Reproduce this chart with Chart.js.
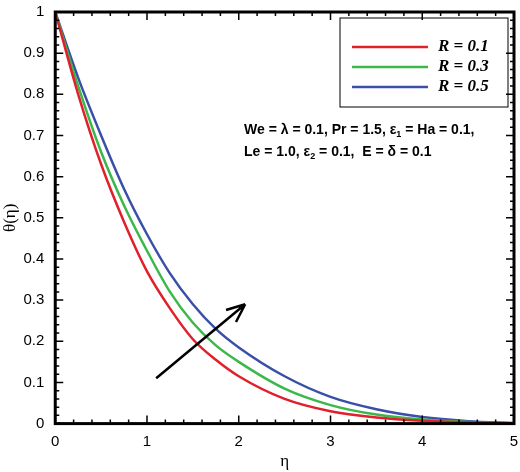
<!DOCTYPE html><html><head><script src="https://cdn.jsdelivr.net/npm/chart.js@4"></script>
<style>body{margin:0;background:#fff}#w{width:520px;height:472px}</style></head><body><div id="w"><canvas id="c"></canvas></div><script>
const eta=[0,0.25,0.5,0.75,1,1.25,1.5,1.75,2,2.5,3,3.5,4,4.5,5];
const r01=[1,0.8,0.63,0.49,0.37,0.28,0.205,0.155,0.115,0.06,0.03,0.015,0.007,0.003,0.001];
const r03=[1,0.82,0.66,0.53,0.42,0.32,0.245,0.19,0.15,0.085,0.045,0.022,0.01,0.004,0.001];
const r05=[1,0.84,0.70,0.57,0.46,0.365,0.29,0.23,0.185,0.115,0.065,0.035,0.016,0.006,0.001];
const labels=['R = 0.1','R = 0.3','R = 0.5'];
const colors=['#e0202a','#3cb84a','#3a4fa8'];
const arrow=[[1.1,0.11],[2.07,0.29]];
const mk=(d,i)=>({label:labels[i],data:eta.map((x,j)=>({x,y:d[j]})),borderColor:colors[i],borderWidth:2.5,pointRadius:0,cubicInterpolationMode:'monotone',fill:false});
const deco={id:'deco',afterDraw(ch){const c=ch.ctx,x=ch.scales.x,y=ch.scales.y,a=ch.chartArea;c.save();
c.strokeStyle='#000';c.lineWidth=3;c.strokeRect(a.left,a.top,a.right-a.left,a.bottom-a.top);
c.lineWidth=1.5;
for(let v=0;v<=5.001;v+=0.2){const px=x.getPixelForValue(v),L=Math.abs(v-Math.round(v))<1e-6?8:4;c.beginPath();c.moveTo(px,a.bottom);c.lineTo(px,a.bottom-L);c.moveTo(px,a.top);c.lineTo(px,a.top+L);c.stroke();}
for(let v=0;v<=1.001;v+=0.02){const py=y.getPixelForValue(v),L=Math.abs(v*10-Math.round(v*10))<1e-6?8:4;c.beginPath();c.moveTo(a.left,py);c.lineTo(a.left+L,py);c.moveTo(a.right,py);c.lineTo(a.right-L,py);c.stroke();}
const x1=x.getPixelForValue(arrow[0][0]),y1=y.getPixelForValue(arrow[0][1]),x2=x.getPixelForValue(arrow[1][0]),y2=y.getPixelForValue(arrow[1][1]);
c.lineWidth=2.5;c.beginPath();c.moveTo(x1,y1);c.lineTo(x2,y2);const an=Math.atan2(y2-y1,x2-x1);
for(const s of[-1,1]){c.moveTo(x2,y2);c.lineTo(x2-20*Math.cos(an+s*0.4),y2-20*Math.sin(an+s*0.4));}c.stroke();
c.lineWidth=1;c.strokeRect(340,18,168,89);
labels.forEach((l,i)=>{const yy=47+i*20;c.strokeStyle=colors[i];c.lineWidth=2.5;c.beginPath();c.moveTo(352,yy);c.lineTo(428,yy);c.stroke();
c.fillStyle='#000';c.font='italic bold 17px "Liberation Serif"';c.textBaseline='middle';c.fillText(l,438,yy);});
const F='bold 14px "Liberation Sans"',S='bold 9px "Liberation Sans"';
c.font=F;c.fillStyle='#000';
c.fillText('We = λ = 0.1, Pr = 1.5, ε',244,130);let w=c.measureText('We = λ = 0.1, Pr = 1.5, ε').width;c.font=S;c.fillText('1',244+w,135);c.font=F;c.fillText(' = Ha = 0.1,',244+w+5,130);
c.fillText('Le = 1.0, ε',244,152);w=c.measureText('Le = 1.0, ε').width;c.font=S;c.fillText('2',244+w,157);c.font=F;c.fillText(' = 0.1,  E = δ = 0.1',244+w+5,152);
c.restore();}};
new Chart(document.getElementById('c'),{type:'line',data:{datasets:[mk(r01,0),mk(r03,1),mk(r05,2)]},
options:{responsive:true,maintainAspectRatio:false,animation:false,layout:{padding:{top:8,right:6}},
plugins:{legend:{display:false},tooltip:{enabled:false}},
scales:{x:{type:'linear',min:0,max:5,grid:{display:false},border:{display:false},ticks:{stepSize:1,padding:1,color:'#000',font:{family:'Liberation Sans',size:15}},title:{display:true,text:'η',color:'#000',font:{family:'Liberation Serif',size:17},padding:0}},
y:{min:0,max:1,grid:{display:false},border:{display:false},ticks:{stepSize:0.1,color:'#000',font:{family:'Liberation Sans',size:15},callback:v=>Math.abs(v)<1e-9?'0':(Math.abs(v-1)<1e-9?'1':v.toFixed(1))},title:{display:true,text:'θ(η)',color:'#000',font:{family:'Liberation Serif',size:17},padding:0}}}},plugins:[deco]});
</script></body></html>
